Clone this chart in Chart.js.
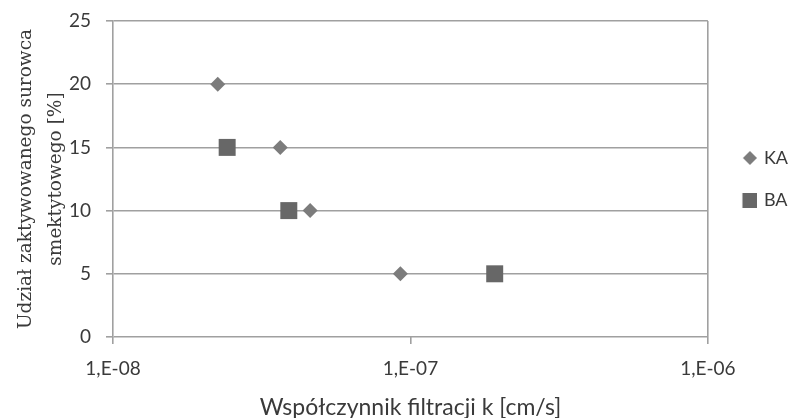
<!DOCTYPE html>
<html>
<head>
<meta charset="utf-8">
<script src="https://cdn.jsdelivr.net/npm/chart.js@4"></script>
<style>
  html, body { margin: 0; padding: 0; background: #fff; }
  #wrap { width: 789px; height: 418px; }
</style>
</head>
<body>
<div id="wrap"><canvas id="kChart" width="789" height="418"></canvas></div>
<script>
const seriesNames = ["KA", "BA"];
const kaK = [2.25e-8, 3.65e-8, 4.6e-8, 9.25e-8];
const kaShare = [20, 15, 10, 5];
const baK = [2.42e-8, 3.9e-8, 1.92e-7];
const baShare = [15, 10, 5];
const xTicks = [1e-8, 1e-7, 1e-6];
const xTickLabels = ["1,E-08", "1,E-07", "1,E-06"];

const toPoints = (xs, ys) => xs.map((x, i) => ({ x: x, y: ys[i] }));
const gridGrey = "#a0a0a0";
const textGrey = "#3a3a3a";
const kaColor = "#7c7c7c";
const baColor = "#676767";

// legend markers: marker sits at the right of a wider transparent canvas
function legendMark(kind, color, size) {
  const w = 27;
  const c = document.createElement("canvas");
  c.width = w; c.height = size;
  const g = c.getContext("2d");
  const x0 = w - 7 - size / 2;
  g.fillStyle = color;
  if (kind === "diamond") {
    g.beginPath();
    g.moveTo(x0 + size / 2, 0); g.lineTo(x0 + size, size / 2);
    g.lineTo(x0 + size / 2, size); g.lineTo(x0, size / 2);
    g.closePath(); g.fill();
  } else {
    g.fillRect(x0, 0, size, size);
  }
  return c;
}
const legendMarks = [legendMark("diamond", kaColor, 14), legendMark("square", baColor, 15)];

new Chart(document.getElementById("kChart"), {
  type: "scatter",
  data: {
    datasets: [{
      label: seriesNames[0],
      data: toPoints(kaK, kaShare),
      pointStyle: "rectRot",
      pointRadius: 7.5,
      pointHoverRadius: 7.5,
      backgroundColor: kaColor,
      borderColor: kaColor,
      borderWidth: 0
    }, {
      label: seriesNames[1],
      data: toPoints(baK, baShare),
      pointStyle: "rect",
      pointRadius: 12,
      pointHoverRadius: 12,
      backgroundColor: baColor,
      borderColor: baColor,
      borderWidth: 0
    }]
  },
  options: {
    responsive: false,
    animation: false,
    layout: { padding: { top: 21, right: -9, left: 0, bottom: 0 } },
    plugins: {
      tooltip: { enabled: false },
      legend: {
        position: "right",
        align: "center",
        fullSize: false,
        labels: {
          usePointStyle: true,
          pointStyleWidth: 23,
          boxHeight: 14,
          padding: 24,
          color: textGrey,
          font: { family: "Lato", size: 18 },
          generateLabels: (chart) => Chart.defaults.plugins.legend.labels.generateLabels(chart)
            .map((item, i) => Object.assign(item, { pointStyle: legendMarks[i] }))
        }
      }
    },
    scales: {
      x: {
        type: "logarithmic",
        min: 1e-8,
        max: 1e-6,
        afterBuildTicks: (scale) => { scale.ticks = xTicks.map(v => ({ value: v })); },
        afterFit: (scale) => { scale.height = 81; scale.paddingTop = 0; },
        ticks: {
          color: textGrey,
          font: { family: "Lato", size: 19 },
          padding: 13,
          maxRotation: 0,
          callback: (v) => xTickLabels[xTicks.indexOf(v)]
        },
        grid: {
          color: (ctx) => (ctx.tick && ctx.tick.value === 1e-6 ? gridGrey : "rgba(0,0,0,0)"),
          tickColor: gridGrey,
          tickLength: 7,
          lineWidth: 1.6
        },
        border: { display: false },
        title: {
          display: true,
          text: "Współczynnik filtracji k [cm/s]",
          color: textGrey,
          font: { family: "Lato", size: 23 },
          padding: { top: 4, bottom: -3 }
        }
      },
      y: {
        min: 0,
        max: 25,
        afterFit: (scale) => { scale.width = 113; scale.paddingTop = 0; },
        ticks: {
          stepSize: 5,
          color: textGrey,
          font: { family: "Lato", size: 19 },
          padding: 15
        },
        grid: {
          color: gridGrey,
          tickColor: gridGrey,
          tickLength: 7,
          lineWidth: 1.6
        },
        border: { display: true, color: gridGrey, width: 1.6 },
        title: {
          display: true,
          text: ["Udział zaktywowanego surowca", "smektytowego [%]"],
          color: textGrey,
          font: { family: "DejaVu Serif", size: 18.5, lineHeight: "30px" },
          padding: { top: 11, bottom: 0 }
        }
      }
    }
  }
});
</script>
</body>
</html>
